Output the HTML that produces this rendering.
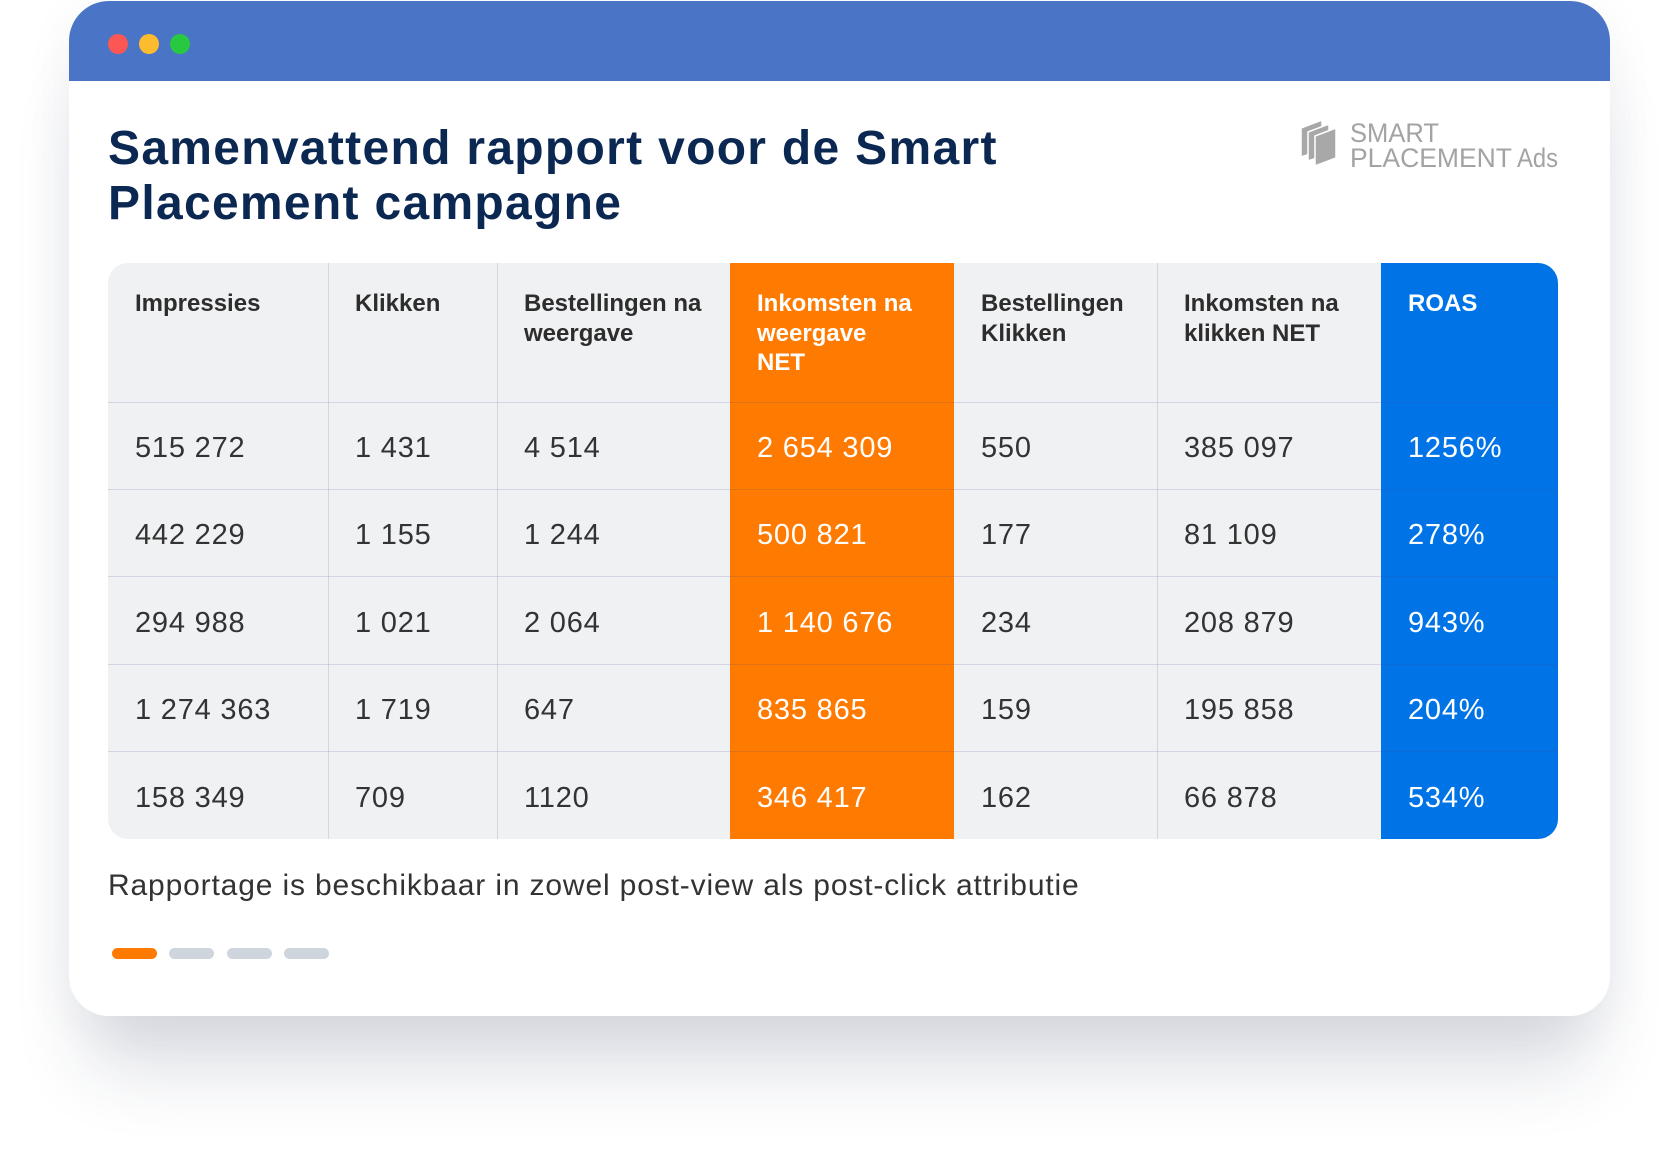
<!DOCTYPE html>
<html>
<head>
<meta charset="utf-8">
<style>
  html, body { margin:0; padding:0; }
  body { width:1680px; height:1154px; background:#ffffff; position:relative; overflow:hidden; font-family:"Liberation Sans", Arial, sans-serif; }
  .win { position:absolute; left:69px; top:1px; width:1541px; height:1015px; border-radius:40px; background:#fff; overflow:hidden;
         box-shadow: 0 70px 75px -20px rgba(30,45,80,0.16), 0 10px 50px rgba(30,45,80,0.06); }
  .bar { position:absolute; left:0; top:0; width:100%; height:80px; background:#4a74c5; }
  .dot { position:absolute; width:20px; height:20px; border-radius:50%; top:33px; }
  .title { position:absolute; left:108px; top:121px; font-size:48px; line-height:55px; font-weight:bold; color:#0b2852; letter-spacing:1.3px; white-space:nowrap; }
  .tbl { position:absolute; left:108px; top:263px; width:1450px; height:576px; border-radius:20px; background:#f0f1f3; overflow:hidden; }
  .col { position:absolute; top:0; height:576px; }
  .hd { height:139px; box-sizing:border-box; padding:26px 0 0 27px; font-size:24px; line-height:29.5px; font-weight:bold; color:#2d2d2d; letter-spacing:0px; }
  .cell { height:87.4px; line-height:87.4px; padding-left:27px; font-size:29px; color:#333; letter-spacing:0.8px; white-space:nowrap; position:relative; top:3px; }
  .w .hd, .w .cell { color:#fff; }
  .hl { position:absolute; left:0; width:1450px; height:1px; background:rgba(70,60,140,0.16); }
  .vl { position:absolute; top:0; width:1px; height:576px; background:rgba(70,60,140,0.16); }
  .cap { position:absolute; left:108px; top:869px; font-size:30px; line-height:34px; color:#333; letter-spacing:0.85px; white-space:nowrap; }
  .dash { position:absolute; top:948px; width:45px; height:11px; border-radius:6px; background:#cfd5dc; }
</style>
</head>
<body>
<div class="win">
  <div class="bar"></div>
  <div class="dot" style="left:39px;background:#fc5753;"></div>
  <div class="dot" style="left:70px;background:#fdbc2e;"></div>
  <div class="dot" style="left:101px;background:#28c840;"></div>
</div>

<div class="title">Samenvattend rapport voor de Smart<br>Placement campagne</div>

<svg style="position:absolute;left:0;top:0;" width="1680" height="200">
  <g fill="#a8a8a8" stroke="#ffffff" stroke-width="1.5" stroke-linejoin="round">
    <polygon points="1301,128 1322,120 1322,150 1301,157"/>
    <polygon points="1308,132 1329,124 1329,154 1308,161"/>
    <polygon points="1315,136 1336,128 1336,158 1315,166"/>
  </g>
  <g font-family="Liberation Sans, Arial, sans-serif" font-size="27" fill="#a3a3a3">
    <text x="1350" y="142" textLength="89" lengthAdjust="spacingAndGlyphs">SMART</text>
    <text x="1350" y="167" textLength="162" lengthAdjust="spacingAndGlyphs">PLACEMENT</text>
    <text x="1517" y="167" textLength="41" lengthAdjust="spacingAndGlyphs">Ads</text>
  </g>
</svg>

<div class="tbl">
  <div class="col" style="left:0;width:220px;">
    <div class="hd">Impressies</div>
    <div class="cell">515 272</div><div class="cell">442 229</div><div class="cell">294 988</div><div class="cell">1 274 363</div><div class="cell">158 349</div>
  </div>
  <div class="col" style="left:220px;width:169px;">
    <div class="hd">Klikken</div>
    <div class="cell">1 431</div><div class="cell">1 155</div><div class="cell">1 021</div><div class="cell">1 719</div><div class="cell">709</div>
  </div>
  <div class="col" style="left:389px;width:233px;">
    <div class="hd">Bestellingen na<br>weergave</div>
    <div class="cell">4 514</div><div class="cell">1 244</div><div class="cell">2 064</div><div class="cell">647</div><div class="cell">1120</div>
  </div>
  <div class="col w" style="left:622px;width:224px;background:#ff7a00;">
    <div class="hd">Inkomsten na<br>weergave<br>NET</div>
    <div class="cell">2 654 309</div><div class="cell">500 821</div><div class="cell">1 140 676</div><div class="cell">835 865</div><div class="cell">346 417</div>
  </div>
  <div class="col" style="left:846px;width:203px;">
    <div class="hd">Bestellingen<br>Klikken</div>
    <div class="cell">550</div><div class="cell">177</div><div class="cell">234</div><div class="cell">159</div><div class="cell">162</div>
  </div>
  <div class="col" style="left:1049px;width:224px;">
    <div class="hd">Inkomsten na<br>klikken NET</div>
    <div class="cell">385 097</div><div class="cell">81 109</div><div class="cell">208 879</div><div class="cell">195 858</div><div class="cell">66 878</div>
  </div>
  <div class="col w" style="left:1273px;width:177px;background:#0074e6;">
    <div class="hd">ROAS</div>
    <div class="cell">1256%</div><div class="cell">278%</div><div class="cell">943%</div><div class="cell">204%</div><div class="cell">534%</div>
  </div>

  <div class="vl" style="left:220px;"></div>
  <div class="vl" style="left:389px;"></div>
  <div class="vl" style="left:1049px;"></div>

  <div class="hl" style="top:139px;"></div>
  <div class="hl" style="top:226px;"></div>
  <div class="hl" style="top:313px;"></div>
  <div class="hl" style="top:401px;"></div>
  <div class="hl" style="top:488px;"></div>
</div>

<div class="cap">Rapportage is beschikbaar in zowel post-view als post-click attributie</div>

<div class="dash" style="left:112px;background:#ff7a00;"></div>
<div class="dash" style="left:169px;"></div>
<div class="dash" style="left:227px;"></div>
<div class="dash" style="left:284px;"></div>
</body>
</html>
